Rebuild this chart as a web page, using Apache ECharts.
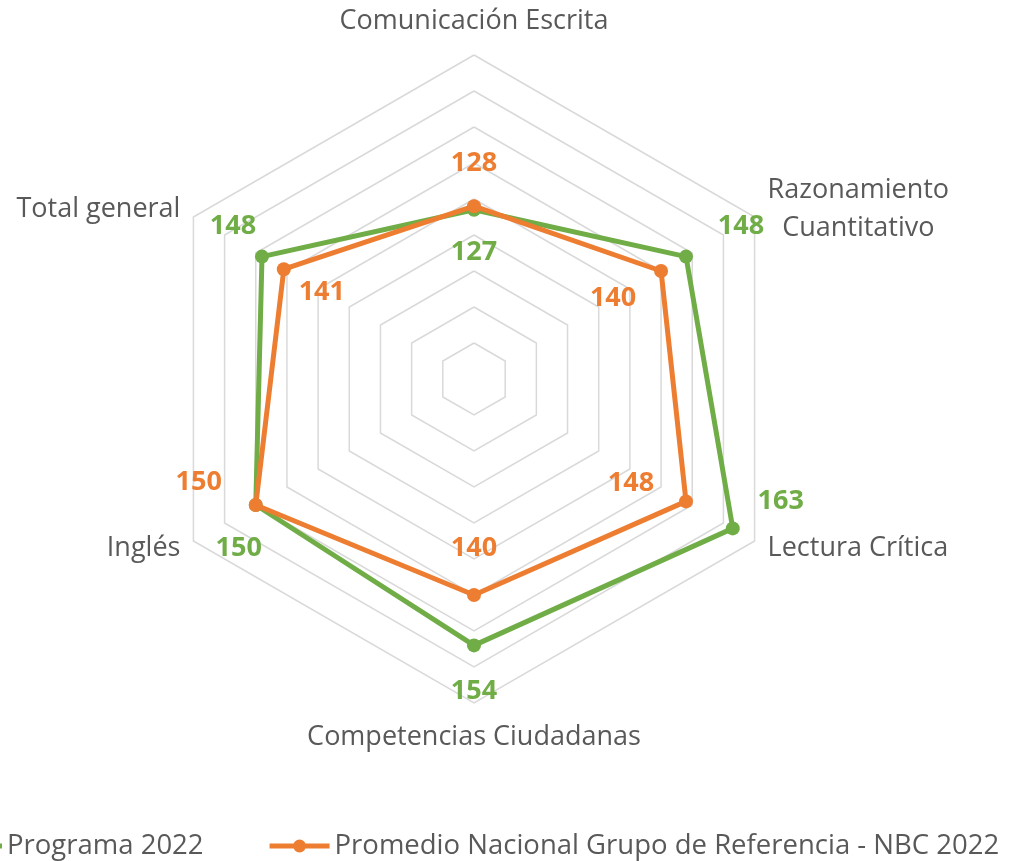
<!DOCTYPE html>
<html>
<head>
<meta charset="utf-8">
<title>Radar</title>
<script src="https://cdn.jsdelivr.net/npm/echarts@6/dist/echarts.min.js"></script>
<style>
    html, body { margin: 0; padding: 0; background: #fff; }
    #radar { width: 1012px; height: 861px; }
</style>
</head>
<body>
<div id="radar"></div>
<script>
// ejes (orden antihorario desde arriba)
var indicadores = ['Comunicación Escrita', 'Total general', 'Inglés', 'Competencias Ciudadanas', 'Lectura Crítica', 'Razonamiento\nCuantitativo'];
var programa = [127, 148, 150, 154, 163, 148];
var promedio = [128, 141, 150, 140, 148, 140];
var escalaMin = 80;
var escalaMax = 170;
var divisiones = 9;

var verde = '#70AD47';
var naranja = '#ED7D31';
var gris = '#595959';

// desplazamiento de cada etiqueta respecto a su punto
var offPrograma = [[0, 43], [-29, -30], [-17, 43], [0, 46], [48, -27], [55, -30]];
var offPromedio = [[0, -43], [38, 23], [-57, -23], [0, -47], [-55, -18], [-48, 27]];

// icono de leyenda: línea gruesa con marcador
var iconoLinea = 'path://M0,4H60V9H0Z M36.5,6.5A6.5,6.5 0 1,1 23.5,6.5A6.5,6.5 0 1,1 36.5,6.5Z';

var myChart = echarts.init(document.getElementById('radar'));
var option = {
    backgroundColor: '#fff',
    animation: false,
    legend: {
        data: ['Programa 2022', 'Promedio Nacional Grupo de Referencia - NBC 2022'],
        left: -63,
        top: 827,
        itemWidth: 60,
        itemHeight: 13,
        itemGap: 66,
        icon: iconoLinea,
        textStyle: {
            color: gris,
            fontSize: 27.5,
            fontFamily: 'Open Sans'
        }
    },
    radar: {
        center: [474, 379],
        radius: 324,
        startAngle: 90,
        shape: 'polygon',
        splitNumber: divisiones,
        nameGap: 15,
        axisName: {
            color: gris,
            fontSize: 27,
            fontFamily: 'Open Sans',
            formatter: function(name) {
                return name.split('\n').map(function(t) { return '{n|' + t + '}'; }).join('\n');
            },
            rich: {
                n: { align: 'center', color: gris, fontSize: 27, fontFamily: 'Open Sans', lineHeight: 38 }
            }
        },
        axisLine: { show: false },
        axisTick: { show: false },
        axisLabel: { show: false },
        splitArea: { show: false },
        splitLine: {
            lineStyle: { color: '#d9d9d9', width: 1.5 }
        },
        indicator: indicadores.map(function(n) {
            return { name: n, min: escalaMin, max: escalaMax };
        })
    },
    series: [{
        type: 'radar',
        name: 'Programa 2022',
        symbol: 'circle',
        symbolSize: 14,
        itemStyle: { color: verde },
        lineStyle: { color: verde, width: 5 },
        data: [{ value: programa, name: 'Programa 2022' }]
    }, {
        type: 'radar',
        name: 'Promedio Nacional Grupo de Referencia - NBC 2022',
        symbol: 'circle',
        symbolSize: 14,
        itemStyle: { color: naranja },
        lineStyle: { color: naranja, width: 5 },
        z: 3,
        data: [{ value: promedio, name: 'Promedio Nacional Grupo de Referencia - NBC 2022' }]
    }]
};
myChart.setOption(option);

// etiquetas de datos, ubicadas con la escala del radar
var etiquetas = [];
try {
    var coord = myChart.getModel().getComponent('radar', 0).coordinateSystem;
    [[programa, offPrograma, verde], [promedio, offPromedio, naranja]].forEach(function(s) {
        s[0].forEach(function(v, i) {
            var p = coord.dataToPoint(v, i);
            etiquetas.push({
                type: 'text',
                x: p[0] + s[1][i][0],
                y: p[1] + s[1][i][1],
                z: 100,
                style: {
                    text: String(v),
                    fill: s[2],
                    fontSize: 27,
                    fontWeight: 'bold',
                    fontFamily: 'Open Sans',
                    align: 'center',
                    verticalAlign: 'middle'
                }
            });
        });
    });
} catch (e) {
    console.log(e);
}
myChart.setOption({ graphic: etiquetas });
</script>
</body>
</html>
